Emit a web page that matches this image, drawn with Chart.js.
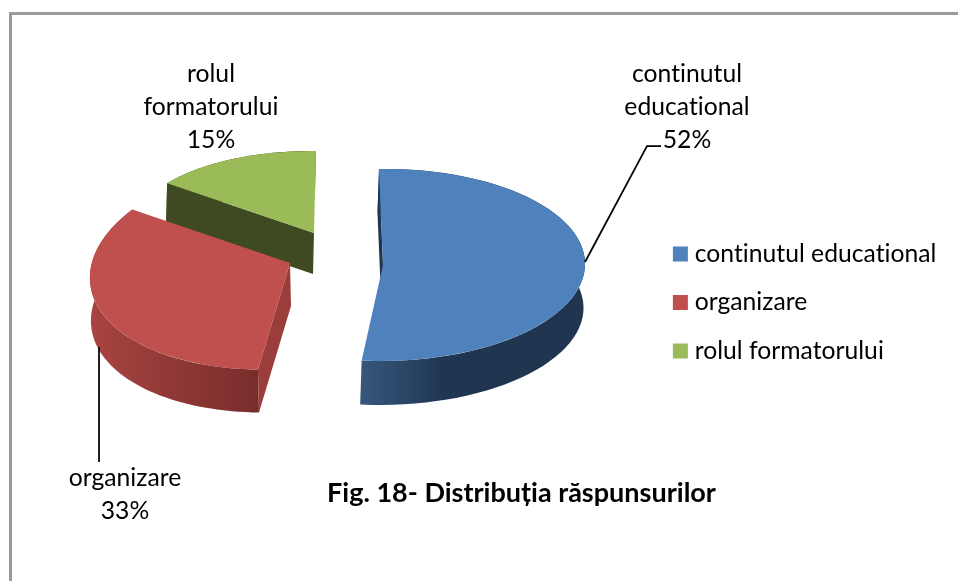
<!DOCTYPE html>
<html lang="en">
<head>
<meta charset="UTF-8">
<title>Fig. 18- Distribuția răspunsurilor</title>
<style>
    html, body { margin: 0; padding: 0; background: #fff; overflow: hidden; }
    #frame { position: absolute; left: 9px; top: 12px; width: 949px; height: 569px; border-top: 3px solid #9a9a9a; border-left: 3px solid #9a9a9a; }
    #wrap { position: absolute; left: 0; top: 0; width: 958px; height: 581px; }
</style>
</head>
<body>
<div id="frame"></div>
<div id="wrap"><canvas id="chart"></canvas></div>

<script src="https://cdn.jsdelivr.net/npm/chart.js"></script>
<script>
const categories = ['continutul educational', 'organizare', 'rolul formatorului'];
const values = [52, 33, 15];
const colors = ['#4f81bd', '#c0504d', '#9bbb59'];
const titleText = 'Fig. 18- Distribuția răspunsurilor';

// where each exploded slice sits on the page: vertex + tilt matrix applied to the unit circle
const sliceFrames = [
    { x: 383, y: 265, a: 202, b: -3, c: 4, d: 96 },
    { x: 290, y: 263, a: 200, b: -11, c: -7, d: 106 },
    { x: 314, y: 233, a: 183, b: 2, c: -2, d: 82 }
];
const depths = [[-1.5, 44], [1, 43], [-1, 41]];
const wallStops = [
    { from: 364, to: 445, c0: '#36567c', c1: '#1f3550', cut: '#1f3550' },
    { from: 90, to: 258, c0: '#a84441', c1: '#782d2b', cut: '#9b3e3b' },
    { from: 170, to: 314, c0: '#3f4a22', c1: '#3f4a22', cut: '#3f4a22' }
];

const labelBlocks = [
    { lines: ['continutul', 'educational'], x: 687, y: 74 },
    { lines: ['organizare'], x: 125, y: 478 },
    { lines: ['rolul', 'formatorului'], x: 211, y: 74 }
];
const leaderLines = [
    [[585, 262], [647, 146], [661, 146]],
    [[99, 347], [99, 462]]
];

const labelFont = '24.7px Lato, sans-serif';
const lineStep = 33;

function framePoint(f, angle, dx, dy) {
    return [f.x + f.a * Math.cos(angle) + f.c * Math.sin(angle) + dx,
            f.y + f.b * Math.cos(angle) + f.d * Math.sin(angle) + dy];
}

function drawWalls(ctx, arc, i) {
    const f = sliceFrames[i], [dx, dy] = depths[i], st = wallStops[i];
    const a0 = arc.startAngle, a1 = arc.endAngle;

    // outer rim
    const grad = ctx.createLinearGradient(st.from, 0, st.to, 0);
    grad.addColorStop(0, st.c0);
    grad.addColorStop(1, st.c1);
    ctx.fillStyle = grad;
    ctx.beginPath();
    const n = 60;
    for (let k = 0; k <= n; k++) {
        const p = framePoint(f, a0 + (a1 - a0) * k / n, 0, 0);
        ctx.lineTo(p[0], p[1]);
    }
    for (let k = n; k >= 0; k--) {
        const p = framePoint(f, a0 + (a1 - a0) * k / n, dx, dy);
        ctx.lineTo(p[0], p[1]);
    }
    ctx.closePath();
    ctx.fill();

    // cut face along the start edge
    const p = framePoint(f, a0, 0, 0);
    ctx.fillStyle = st.cut;
    ctx.beginPath();
    ctx.moveTo(f.x, f.y);
    ctx.lineTo(p[0], p[1]);
    ctx.lineTo(p[0] + dx, p[1] + dy);
    ctx.lineTo(f.x + dx, f.y + dy);
    ctx.closePath();
    ctx.fill();
}

const pie3d = {
    id: 'pie3d',
    beforeDraw(chart) {
        // keeps Lato from joining "ti" into a ligature, the reference has none
        chart.ctx.letterSpacing = '0.01px';
    },
    beforeDatasetDraw(chart, args) {
        const ctx = chart.ctx;
        const arcs = args.meta.data;
        // back to front
        [2, 1, 0].forEach(i => {
            const arc = arcs[i], f = sliceFrames[i], r = arc.outerRadius;
            drawWalls(ctx, arc, i);
            ctx.save();
            ctx.transform(f.a / r, f.b / r, f.c / r, f.d / r, f.x, f.y);
            ctx.translate(-arc.x, -arc.y);
            arc.draw(ctx);
            ctx.restore();
        });
        return false;
    },
    afterDraw(chart) {
        const ctx = chart.ctx;
        ctx.save();
        ctx.strokeStyle = '#000';
        ctx.lineWidth = 1.75;
        leaderLines.forEach(pts => {
            ctx.beginPath();
            pts.forEach(p => ctx.lineTo(p[0], p[1]));
            ctx.stroke();
        });
        ctx.fillStyle = '#000';
        ctx.font = labelFont;
        ctx.textAlign = 'center';
        ctx.textBaseline = 'middle';
        labelBlocks.forEach((b, i) => {
            const lines = b.lines.concat(values[i] + '%');
            lines.forEach((t, k) => ctx.fillText(t, b.x, b.y + k * lineStep));
        });
        ctx.restore();
    }
};

document.getElementById('chart').width = 958;
document.getElementById('chart').height = 581;

new Chart(document.getElementById('chart'), {
    type: 'pie',
    data: {
        labels: categories,
        datasets: [{ data: values, backgroundColor: colors, borderWidth: 0 }]
    },
    options: {
        responsive: false,
        animation: false,
        events: [],
        layout: { padding: { left: 96, right: 11, top: 96, bottom: 72 } },
        plugins: {
            tooltip: { enabled: false },
            title: {
                display: true,
                text: titleText,
                position: 'bottom',
                color: '#000',
                font: { family: 'Lato, sans-serif', size: 27, weight: 'bold' },
                padding: 0
            },
            legend: {
                position: 'right',
                labels: {
                    color: '#000',
                    font: { family: 'Lato, sans-serif', size: 24.7 },
                    usePointStyle: true,
                    pointStyle: 'rect',
                    boxWidth: 4,
                    boxHeight: 15,
                    padding: 23.8
                }
            }
        }
    },
    plugins: [pie3d]
});
</script>
</body>
</html>
